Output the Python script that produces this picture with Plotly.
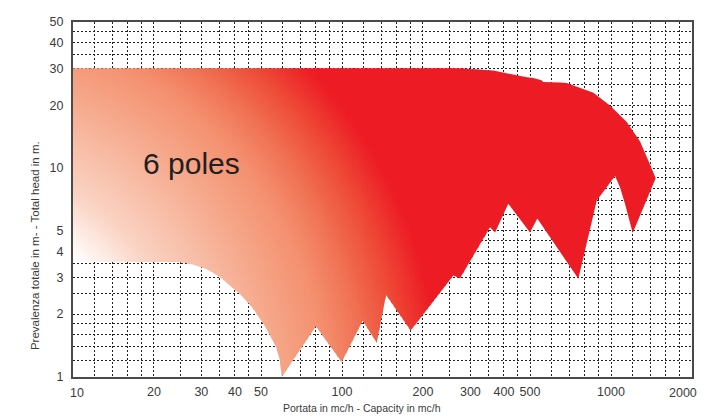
import numpy as np
import plotly.graph_objects as go

# ---------------- data ----------------
top_x = [10, 275, 365, 486, 514, 552, 559, 646, 684, 860, 991, 1144, 1282, 1396, 1466]
top_y = [30, 30, 29.3, 27.2, 27.0, 26.3, 25.8, 25.7, 25.5, 22.9, 19.9, 16.6, 13.4, 10.4, 8.94]

bottom_x = [10, 25, 28, 31.5, 35.2, 39.3, 42, 46.7, 52.2, 56.9, 58.8, 59.7, 80, 99.7, 119.4,
            134.6, 145.8, 180, 259.3, 274.6, 355, 370.6, 415.1, 500, 532, 756, 885, 1035,
            1080, 1127, 1170, 1204, 1466]
bottom_y = [3.55, 3.55, 3.45, 3.28, 3.01, 2.66, 2.48, 2.13, 1.72, 1.39, 1.2, 1.0, 1.75, 1.18, 1.86,
            1.46, 2.47, 1.67, 3.06, 2.97, 5.21, 4.92, 6.75, 4.92, 5.74, 2.95, 7.0, 9.16,
            8.09, 6.75, 5.64, 4.89, 8.94]

x_grid = [10, 12, 14, 16, 18, 20, 25, 30, 35, 40, 45, 50, 60, 70, 80, 90, 100, 120, 140, 160, 180,
          200, 250, 300, 350, 400, 450, 500, 600, 700, 800, 900, 1000, 1200, 1400, 1600, 1800, 2000]
x_labels = [10, 20, 30, 40, 50, 100, 200, 300, 400, 500, 1000, 2000]
y_grid = [1, 1.2, 1.4, 1.6, 1.8, 2, 2.5, 3, 3.5, 4, 4.5, 5, 6, 7, 8, 9, 10, 12, 14, 16, 18, 20,
          25, 30, 35, 40, 45, 50]
y_labels = [1, 2, 3, 4, 5, 10, 20, 30, 40, 50]

label_text = "6 poles"
x_title = "Portata in mc/h - Capacity in mc/h"
y_title = "Prevalenza totale in m- - Total head in m."

# ---------------- layout geometry (page pixels) ----------------
PAGE_W, PAGE_H = 721, 419
OFF = 8                      # default body margin of the html page
PL, PR, PT, PB = 73, 692, 15, 377   # plot area edges on the page
PW, PH = PR - PL, PB - PT
FIG_W, FIG_H = PAGE_W - OFF, PAGE_H - OFF
XR = [1.0, float(np.log10(2000))]
YR = [0.0, float(np.log10(50))]


def px(x):
    return PL + PW * (np.log10(x) - XR[0]) / (XR[1] - XR[0])


def py(y):
    return PT + PH * (1 - (np.log10(y) - YR[0]) / (YR[1] - YR[0]))


def ux(u):
    return 10 ** (XR[0] + (u - PL) / PW * (XR[1] - XR[0]))


def vy(v):
    return 10 ** (YR[0] + (1 - (v - PT) / PH) * (YR[1] - YR[0]))


# gradient definition (radial, in page pixels)
GC = (-60.0, 400.0)
GD = [195, 250, 345, 387, 420, 459, 500]
GCOL = np.array([(255, 255, 255), (250, 211, 195), (245, 164, 134), (244, 144, 111),
                 (240, 117, 86), (238, 77, 56), (237, 28, 36)], dtype=float)


def grad_color(d):
    r = np.interp(d, GD, GCOL[:, 0])
    g = np.interp(d, GD, GCOL[:, 1])
    b = np.interp(d, GD, GCOL[:, 2])
    return "rgb(%d,%d,%d)" % (round(r), round(g), round(b))


tu, tv = px(np.array(top_x)), py(np.array(top_y))
bu, bv = px(np.array(bottom_x)), py(np.array(bottom_y))


def edge(us, vs, ua, ub):
    pts_u = [ua] + [u for u in us if ua < u < ub] + [ub]
    pts_v = list(np.interp(pts_u, us, vs))
    return pts_u, pts_v


fig = go.Figure()

U_CUT = 485.0
STEP = 3.0
ua = float(PL)
while ua < U_CUT:
    ub = min(ua + STEP, U_CUT)
    ue = ub + 1.0  # small overlap to hide seams
    t_u, t_v = edge(tu, tv, ua, ue)
    b_u, b_v = edge(bu, bv, ua, ue)
    poly_u = t_u + b_u[::-1] + [t_u[0]]
    poly_v = t_v + b_v[::-1] + [t_v[0]]
    vtop, vbot = min(poly_v), max(poly_v)
    uc = 0.5 * (ua + ub)
    cs = []
    n = 24
    for i in range(n + 1):
        s = i / n
        v = vbot + s * (vtop - vbot)
        d = np.hypot(uc - GC[0], v - GC[1])
        cs.append([s, grad_color(d)])
    fig.add_trace(go.Scatter(
        x=[ux(u) for u in poly_u], y=[vy(v) for v in poly_v],
        mode="lines", fill="toself", line=dict(width=0, color="rgba(0,0,0,0)"),
        fillgradient=dict(type="vertical", colorscale=cs),
        hoverinfo="skip", showlegend=False))
    ua = ub

# remaining fully red part
u_end = max(tu.max(), bu.max())
t_u, t_v = edge(tu, tv, U_CUT - 1.0, u_end)
b_u, b_v = edge(bu, bv, U_CUT - 1.0, u_end)
poly_u = t_u + b_u[::-1] + [t_u[0]]
poly_v = t_v + b_v[::-1] + [t_v[0]]
fig.add_trace(go.Scatter(
    x=[ux(u) for u in poly_u], y=[vy(v) for v in poly_v],
    mode="lines", fill="toself", fillcolor="rgb(237,28,36)",
    line=dict(width=0, color="rgba(0,0,0,0)"),
    hoverinfo="skip", showlegend=False))

NARROW = "Liberation Sans Narrow, Arial Narrow, Liberation Sans, Arial"
TEXT_COL = "#3a3a3a"
TICK_FONT = dict(family=NARROW, size=12.5, color=TEXT_COL)

# end labels of the x axis sit slightly inside the frame in the reference
x_edge_labels = {10: 77, 2000: 683}

fig.update_xaxes(
    type="log", range=XR,
    tickvals=x_grid,
    ticktext=[str(v) if (v in x_labels and v not in x_edge_labels) else "" for v in x_grid],
    showgrid=True, gridcolor="#222222", gridwidth=1, griddash="2px,2px",
    showline=True, linecolor="#4a4a4a", linewidth=2, mirror=True,
    ticks="", tickfont=TICK_FONT, ticklabelstandoff=2, zeroline=False, fixedrange=True)
fig.update_yaxes(
    type="log", range=YR,
    tickvals=y_grid,
    ticktext=[("%g" % v) if v in y_labels else "" for v in y_grid],
    showgrid=True, gridcolor="#222222", gridwidth=1, griddash="2px,2px",
    showline=True, linecolor="#4a4a4a", linewidth=2, mirror=True,
    ticks="", tickfont=TICK_FONT, ticklabelstandoff=5, zeroline=False, fixedrange=True)

for val, upos in x_edge_labels.items():
    fig.add_annotation(
        x=(upos - PL) / PW, y=(PB - 393) / PH, xref="paper", yref="paper",
        text=str(val), showarrow=False, xanchor="center", yanchor="middle",
        font=TICK_FONT)

fig.add_annotation(
    x=np.log10(ux(191.5)), y=np.log10(vy(159)), xref="x", yref="y",
    text=label_text, showarrow=False, xanchor="center", yanchor="middle",
    font=dict(family="Liberation Sans, Arial", size=30, color="#231F20"))

fig.add_annotation(
    x=(362 - PL) / PW, y=(PB - 409) / PH, xref="paper", yref="paper",
    text=x_title, showarrow=False, xanchor="center", yanchor="middle",
    font=dict(family=NARROW, size=10.5, color=TEXT_COL))
fig.add_annotation(
    x=(34.5 - PL) / PW, y=(PB - 243) / PH, xref="paper", yref="paper",
    text=y_title, showarrow=False, xanchor="center", yanchor="middle", textangle=-90,
    font=dict(family=NARROW, size=11.5, color=TEXT_COL))

fig.update_layout(
    width=FIG_W, height=FIG_H,
    margin=dict(l=PL - OFF, r=(OFF + FIG_W) - PR, t=PT - OFF, b=(OFF + FIG_H) - PB, pad=0),
    paper_bgcolor="white", plot_bgcolor="white",
    showlegend=False, hovermode=False)

fig.write_html("out.html")
